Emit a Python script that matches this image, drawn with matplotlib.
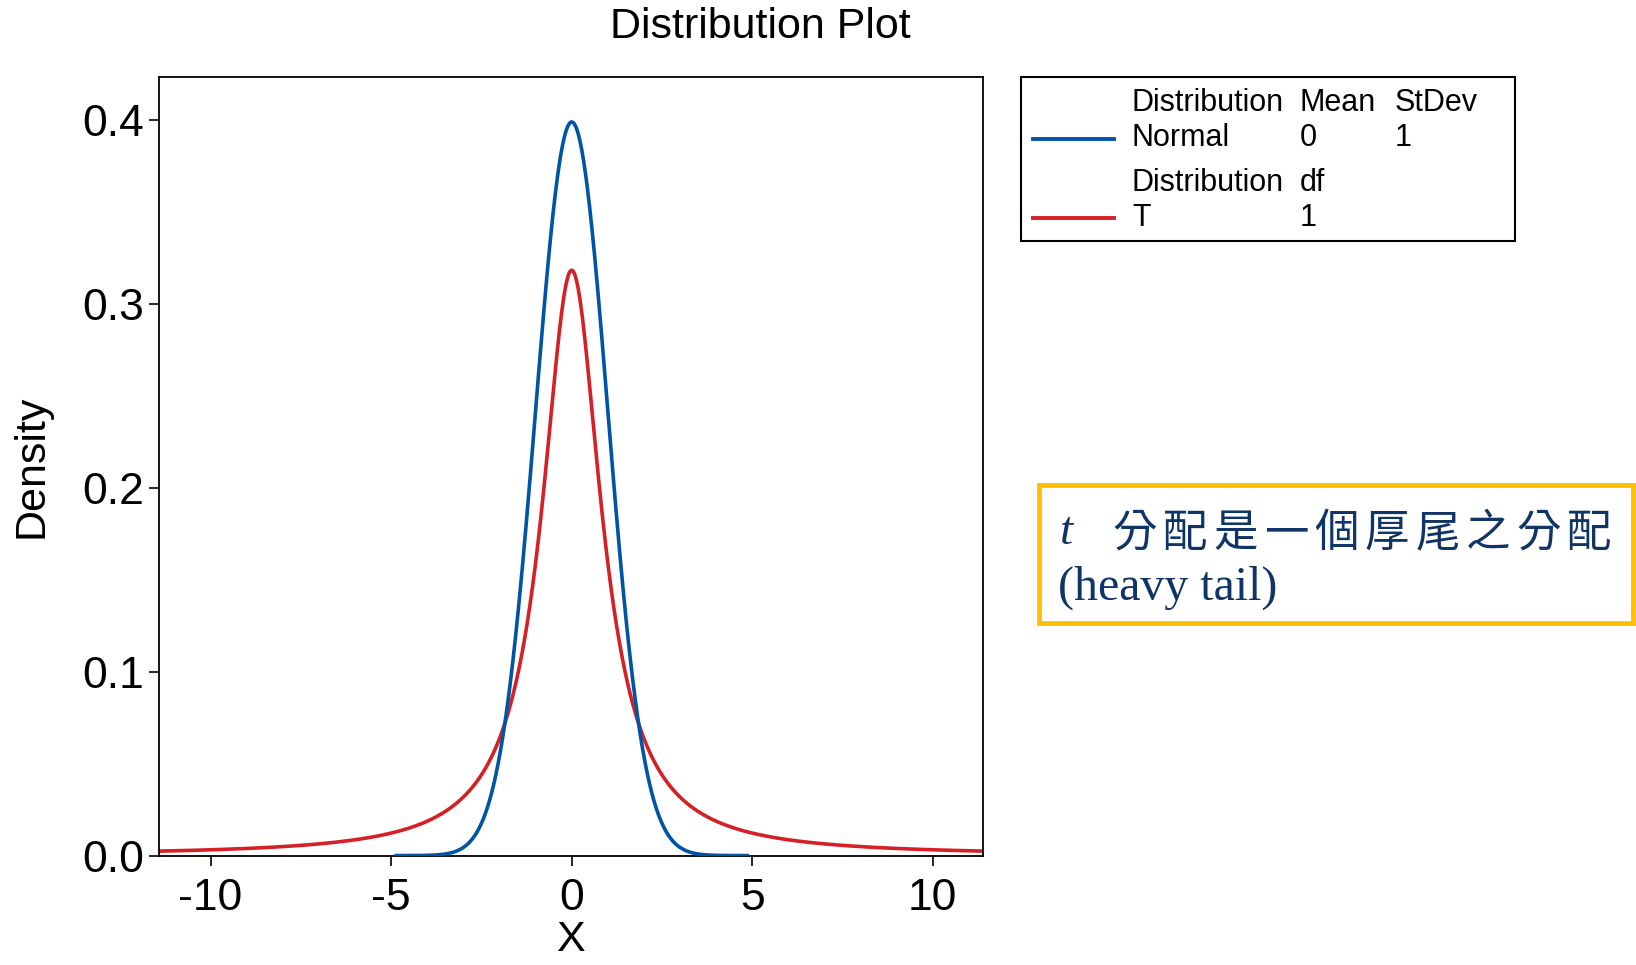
import math
import numpy as np
import matplotlib
matplotlib.use('Agg')
import matplotlib.pyplot as plt
from matplotlib.patches import Rectangle
from matplotlib.lines import Line2D

# distribution parameters shown in the legend
normal_mean = 0
normal_sd = 1
t_df = 1
normal_range = [-4.86, 4.86]
x_limits = [-11.44, 11.39]
y_limits = [0, 0.4233]
x_ticks = [-10, -5, 0, 5, 10]
y_ticks = [0.0, 0.1, 0.2, 0.3, 0.4]
note_cjk = '分配是一個厚尾之分配'

blue = '#0054a6'
red = '#d42026'

# densities
xn = np.linspace(normal_range[0], normal_range[1], 600)
yn = np.exp(-0.5 * ((xn - normal_mean) / normal_sd) ** 2) / (normal_sd * math.sqrt(2 * math.pi))
xt = np.linspace(x_limits[0], x_limits[1], 1200)
ct = math.gamma((t_df + 1) / 2) / (math.sqrt(t_df * math.pi) * math.gamma(t_df / 2))
yt = ct * (1 + xt ** 2 / t_df) ** (-(t_df + 1) / 2)

plt.rcParams['font.family'] = ['Liberation Sans', 'DejaVu Sans']

W, H = 1636, 965
fig = plt.figure(figsize=(W / 100, H / 100), dpi=100)


def fx(px):
    return px / W


def fy(py):
    return 1 - py / H


ax = fig.add_axes([fx(158.6), fy(855.6), fx(983) - fx(158.6), fy(77.2) - fy(855.6)])
ax.plot(xt, yt, color=red, lw=2.6, zorder=2)
ax.plot(xn, yn, color=blue, lw=2.6, zorder=3)
ax.set_xlim(x_limits)
ax.set_ylim(y_limits)
ax.set_xticks(x_ticks)
ax.set_xticklabels([str(v) for v in x_ticks])
ax.set_yticks(y_ticks)
ax.set_yticklabels([f'{v:.1f}' for v in y_ticks])
ax.tick_params(direction='out', length=7, width=1.2, labelsize=32)
ax.tick_params(axis='x', pad=9)
for s in ax.spines.values():
    s.set_linewidth(1.3)
ax.set_xlabel('X', fontsize=31, labelpad=1)
ax.set_ylabel('Density', fontsize=31, labelpad=22)

fig.text(fx(760), fy(27), 'Distribution Plot', fontsize=31, ha='center', va='center')

# legend box
fig.patches.append(Rectangle((fx(1020.5), fy(241)), fx(1515) - fx(1020.5), fy(77.2) - fy(241),
                             transform=fig.transFigure, fill=False, edgecolor='black', lw=1.5))
fig.lines.append(Line2D([fx(1033), fx(1114)], [fy(138.8), fy(138.8)], transform=fig.transFigure,
                        color=blue, lw=2.8))
fig.lines.append(Line2D([fx(1033), fx(1114)], [fy(218), fy(218)], transform=fig.transFigure,
                        color=red, lw=2.8))
leg_rows = [
    (103, ['Distribution', 'Mean', 'StDev']),
    (138, ['Normal', str(normal_mean), str(normal_sd)]),
    (183, ['Distribution', 'df']),
    (218, ['T', str(t_df)]),
]
col_x = [1132, 1300, 1395]
for py, items in leg_rows:
    for cx, txt in zip(col_x, items):
        fig.text(fx(cx), fy(py), txt, fontsize=22, ha='left', va='center')

# annotation box
fig.patches.append(Rectangle((fx(1039), fy(623)), fx(1633) - fx(1039), fy(485) - fy(623),
                             transform=fig.transFigure, fill=False, edgecolor='#ffc000', lw=3.5))
navy = '#0f3466'
fig.text(fx(1060), fy(533), 't', fontsize=34, style='italic', family=['Liberation Serif'],
         color=navy, ha='left', va='center')
for i, ch in enumerate(note_cjk):
    fig.text(fx(1112 + i * 50.6), fy(533), ch, fontsize=32,
             family=['Noto Sans CJK TC', 'DejaVu Sans'], color=navy, ha='left', va='center')
fig.text(fx(1058), fy(588), '(heavy tail)', fontsize=34.5, family=['Liberation Serif'],
         color=navy, ha='left', va='center')

fig.savefig('out.png', dpi=100)
